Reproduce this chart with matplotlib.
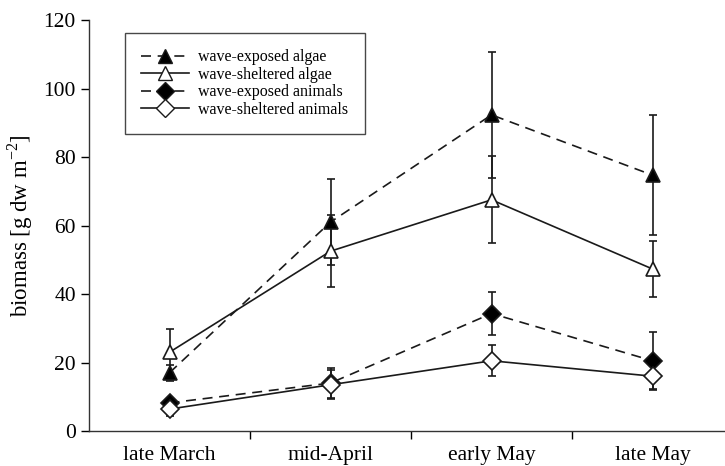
import matplotlib.pyplot as plt
from matplotlib.ticker import FixedLocator
from matplotlib.lines import Line2D

plt.rcParams['font.family'] = ['Liberation Serif', 'DejaVu Serif']
plt.rcParams['mathtext.fontset'] = 'custom'
plt.rcParams['mathtext.rm'] = 'Liberation Serif'

periods = ['late March', 'mid-April', 'early May', 'late May']

exposed_algae = [17.0, 61.0, 92.3, 74.7]
exposed_algae_err = [2.3, 12.6, 18.5, 17.5]
sheltered_algae = [23.0, 52.5, 67.5, 47.3]
sheltered_algae_err = [6.7, 10.5, 12.7, 8.1]
exposed_animals = [8.2, 14.0, 34.3, 20.5]
exposed_animals_err = [1.5, 4.5, 6.4, 8.5]
sheltered_animals = [6.4, 13.5, 20.5, 16.0]
sheltered_animals_err = [2.0, 4.3, 4.5, 3.6]

series = [
    ('wave-exposed algae', exposed_algae, exposed_algae_err, '^', 'black', (0, (6, 4))),
    ('wave-sheltered algae', sheltered_algae, sheltered_algae_err, '^', 'white', '-'),
    ('wave-exposed animals', exposed_animals, exposed_animals_err, 'D', 'black', (0, (6, 4))),
    ('wave-sheltered animals', sheltered_animals, sheltered_animals_err, 'D', 'white', '-'),
]

fig = plt.figure(figsize=(7.25, 4.66), dpi=100)
ax = fig.add_axes([89 / 725, 35 / 466, 636 / 725, 411 / 466])

x = list(range(len(periods)))
for label, vals, errs, marker, face, ls in series:
    ax.errorbar(x, vals, yerr=errs, color='#1a1a1a', ecolor='#1a1a1a', elinewidth=1.2,
                capsize=3, capthick=1.2, linestyle=ls, linewidth=1.2,
                marker=marker, markersize=10 if marker == '^' else 9,
                markerfacecolor=face, markeredgecolor='#1a1a1a', markeredgewidth=1.2,
                label=label)

ax.set_xlim(-0.5, 3.45)
ax.set_ylim(0, 120)
ax.set_xticks(x)
ax.set_xticklabels(periods)
ax.xaxis.set_minor_locator(FixedLocator([0.5, 1.5, 2.5]))
ax.tick_params(axis='x', which='major', length=0, pad=11, labelsize=15.5)
ax.tick_params(axis='x', which='minor', length=6, width=1, direction='out')
ax.tick_params(axis='y', length=6, width=1, direction='out', labelsize=15.5)
ax.set_yticks(range(0, 121, 20))
ax.set_ylabel('biomass [g dw m$^{\\mathrm{-2}}$]', fontsize=16.5, labelpad=6)

for side in ('top', 'right'):
    ax.spines[side].set_visible(False)
for side in ('left', 'bottom'):
    ax.spines[side].set_linewidth(1.0)
    ax.spines[side].set_color('#333333')

# legend handles without error bars
handles = [Line2D([], [], color='#1a1a1a', linestyle=ls, linewidth=1.2, marker=m,
                  markersize=10 if m == '^' else 9, markerfacecolor=f,
                  markeredgecolor='#1a1a1a', label=lab)
           for lab, _, _, m, f, ls in series]
leg = ax.legend(handles=handles, loc='upper left', bbox_to_anchor=(0.0566, 0.968),
                borderaxespad=0, fontsize=11.5, frameon=True, fancybox=False,
                edgecolor='#1a1a1a', handlelength=3.0, handletextpad=0.6,
                borderpad=1.0, labelspacing=0.1)
leg.get_frame().set_linewidth(1.0)

fig.savefig('out.png', dpi=100)
